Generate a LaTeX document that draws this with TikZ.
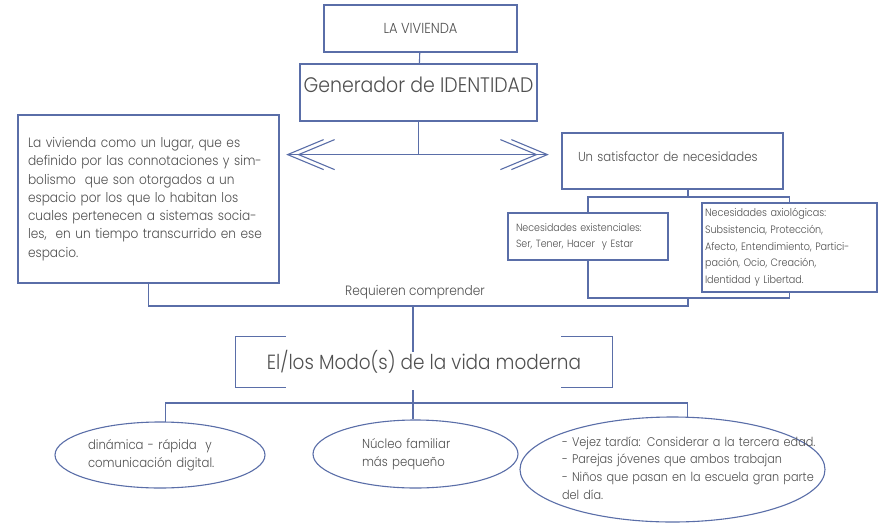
\documentclass[tikz,border=0pt]{standalone}
\usepackage{fontspec}
\setmainfont[FakeStretch=0.9]{Poppins Light}
\usetikzlibrary{calc,shapes.geometric}
\definecolor{ln}{HTML}{5A6EA8}
\definecolor{tx}{HTML}{505050}
\begin{document}
\begin{tikzpicture}[x=1pt,y=-1pt,
  every node/.style={text=tx},
  box/.style={draw=ln,line width=1.2pt,inner sep=0pt},
  conn/.style={draw=ln,line width=1.1pt},
  oval/.style={ellipse,draw=ln,line width=1.1pt,inner sep=0pt}]
\useasboundingbox[fill=white] (0,0) rectangle (882,522);

% boxes
\node[box,minimum width=193pt,minimum height=47pt,font=\fontsize{14.5}{15}\selectfont] (viv) at (420.5,28.5) {LA VIVIENDA};
\node[box,minimum width=237pt,minimum height=57pt,text depth=16pt,font=\fontsize{21}{24}\selectfont] (gen) at (418.5,92.5) {Generador de IDENTIDAD};
\node[box,minimum width=261pt,minimum height=168pt,text width=241pt,align=left,font=\fontsize{13.5}{18.3}\selectfont] (lb) at (148.5,199) {La vivienda como un lugar, que es\\definido por las connotaciones y sim-\\bolismo \ que son otorgados a un\\espacio por los que lo habitan los\\cuales pertenecen a sistemas socia-\\les, \ en un tiempo transcurrido en ese\\espacio.};
\node[box,minimum width=221pt,minimum height=56pt,text width=189pt,align=left,text depth=8pt,font=\fontsize{13}{15}\selectfont] (sat) at (672.5,161) {Un satisfactor de necesidades};
\node[box,minimum width=160pt,minimum height=47pt,text width=144pt,align=left,font=\fontsize{10.5}{16}\selectfont] (ex) at (588,236.5) {Necesidades existenciales:\\Ser, Tener, Hacer \ y Estar};
\node[box,minimum width=175pt,minimum height=89pt,text width=169pt,align=left,font=\fontsize{10.7}{16.7}\selectfont] (ax) at (789.5,247.5) {Necesidades axiológicas:\\Subsistencia, Protección,\\Afecto, Entendimiento, Partici-\\pación, Ocio, Creación,\\Identidad y Libertad.};

\node[font=\fontsize{13.5}{15}\selectfont,inner sep=0pt] (req) at (415,292) {Requieren comprender};
\node[minimum width=376pt,minimum height=50pt,inner sep=0pt,font=\fontsize{20.5}{24}\selectfont] (modo) at (424,362) {El/los Modo(s) de la vida moderna};
\draw[conn] ($(modo.north west)+(50,0)$) -- (modo.north west) -- (modo.south west) -- ++(50,0);
\draw[conn] ($(modo.north east)+(-51,0)$) -- (modo.north east) -- (modo.south east) -- ++(-51,0);

% ellipses
\node[oval,minimum width=210pt,minimum height=66pt,text width=144pt,align=left,font=\fontsize{13}{18}\selectfont] (e1) at (160,455) {dinámica - rápida \ y\\comunicación digital.};
\node[oval,minimum width=205pt,minimum height=68pt,text width=107pt,align=left,font=\fontsize{13}{18}\selectfont] (e2) at (415.5,454) {Núcleo familiar\\más pequeño};
\node[oval,minimum width=305pt,minimum height=105pt] (e3) at (672.5,469.5) {};
\node[inner sep=0pt,text width=262pt,align=left,font=\fontsize{12.5}{17.7}\selectfont] (e3t) at (693,468) {- Vejez tardía: Considerar a la tercera edad.\\- Parejas jóvenes que ambos trabajan\\- Niños que pasan en la escuela gran parte\\del día.};

% connectors
\draw[conn] (viv) -- (gen);
\coordinate (ar) at ($(gen.south)+(0,33)$);
\draw[conn] (gen.south) -- (ar);
\coordinate (al) at ($(lb.east |- ar)+(8,0)$);
\coordinate (arr) at ($(sat.west |- ar)+(-14,0)$);
\draw[conn] (al) -- (arr);
\draw[conn] ($(al)+(36,-15)$) -- (al) -- ($(al)+(36,15)$);
\draw[conn] ($(al)+(47,-15)$) -- ($(al)+(11,0)$) -- ($(al)+(47,15)$);
\draw[conn] ($(arr)+(-36,-15)$) -- (arr) -- ($(arr)+(-36,15)$);
\draw[conn] ($(arr)+(-47,-15)$) -- ($(arr)+(-11,0)$) -- ($(arr)+(-47,15)$);

\coordinate (btop) at (688,197);
\draw[conn] (sat.south -| btop) -- (btop);
\draw[conn] (ex.north) |- (btop) -| (ax.north);
\coordinate (bbot) at (688,298);
\draw[conn] (ex.south) |- (bbot) -| (ax.south);
\coordinate (rline) at (688,306);
\draw[conn] (bbot) -- (rline) -| ($(lb.south west)+(131,0)$);
\coordinate (hub) at (413,306);
\draw[conn] (hub) -- ($(modo.north)+(-11,15)$);
\coordinate (hub2) at (413,403);
\draw[conn] ($(modo.south)+(-11,3)$) -- (hub2);
\draw[conn] (e1.80) |- (hub2) -| (e3.74);
\draw[conn] (hub2) -- (hub2 |- e2.north);
\end{tikzpicture}
\end{document}
